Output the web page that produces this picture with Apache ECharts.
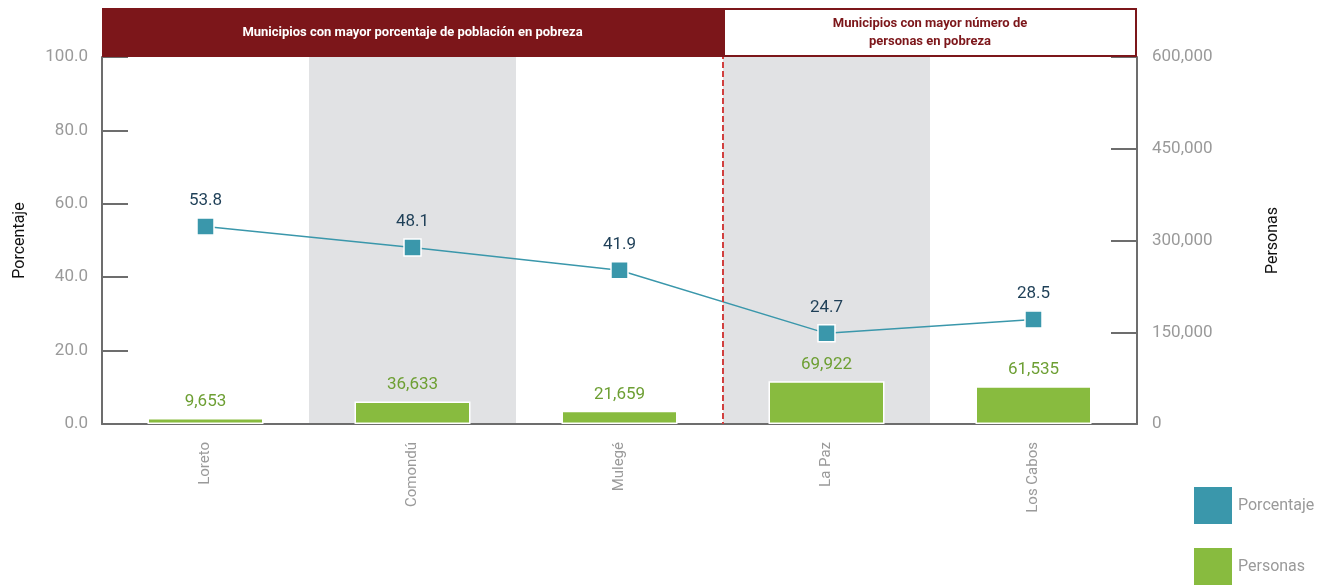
<!DOCTYPE html>
<html>
<head>
    <meta charset="UTF-8"/>
    <script type="text/javascript" src="https://cdn.jsdelivr.net/npm/echarts@6/dist/echarts.min.js"></script>
    <title>Pobreza por municipio</title>
    <style>
        html, body { margin: 0; padding: 0; background: #fff; }
        #chart { width: 1333px; height: 585px; }
    </style>
</head>
<body>
<div id="chart"></div>

<script type="application/javascript">
    var municipios = ['Loreto', 'Comondú', 'Mulegé', 'La Paz', 'Los Cabos'];
    var porcentaje = [53.8, 48.1, 41.9, 24.7, 28.5];
    var personas = [9653, 36633, 21659, 69922, 61535];
    var headerLeft = 'Municipios con mayor porcentaje de población en pobreza';
    var headerRight = 'Municipios con mayor número de\npersonas en pobreza';

    var grayText = '#9a9a9a';
    var axisColor = '#6d6d6d';
    var baseFont = 'Roboto, "Liberation Sans", sans-serif';
    var narrowFont = '"Liberation Sans Narrow", "Roboto", sans-serif';

    function fmtMiles(v) {
        return String(v).replace(/\B(?=(\d{3})+(?!\d))/g, ',');
    }

    function legendItem(name, top) {
        return {
            orient: 'vertical',
            left: 1192,
            top: top,
            padding: 0,
            itemWidth: 40,
            itemHeight: 39,
            icon: 'rect',
            textStyle: { color: grayText, fontSize: 16, fontFamily: baseFont },
            data: [name]
        };
    }

    var myChart = echarts.init(document.getElementById('chart'));
    var option = {
        animation: false,
        textStyle: { fontFamily: baseFont },
        grid: { left: 102, right: 196, top: 57, bottom: 161, outerBoundsMode: 'none' },
        legend: [legendItem('Porcentaje', 485), legendItem('Personas', 546)],
        xAxis: {
            type: 'category',
            data: municipios,
            axisLine: { lineStyle: { color: axisColor, width: 2 } },
            axisTick: { inside: true, length: 8, lineStyle: { color: axisColor, width: 2 } },
            axisLabel: { rotate: 90, color: grayText, fontSize: 15, margin: 18 },
            splitArea: { show: true, areaStyle: { color: ['rgba(0,0,0,0)', '#e1e2e4'] } }
        },
        yAxis: [
            {
                type: 'value',
                min: 0, max: 100, interval: 20,
                name: 'Porcentaje',
                nameLocation: 'middle',
                nameRotate: 90,
                nameGap: 74,
                nameTextStyle: { color: '#111', fontSize: 16 },
                axisLine: { show: true, lineStyle: { color: axisColor, width: 2 } },
                axisTick: { show: true, inside: true, length: 26, lineStyle: { color: axisColor, width: 2 } },
                axisLabel: { color: grayText, fontSize: 17, margin: 14, formatter: function (v) { return v.toFixed(1); } },
                splitLine: { show: false }
            },
            {
                type: 'value',
                min: 0, max: 600000, interval: 150000,
                name: 'Personas',
                nameLocation: 'middle',
                nameRotate: 90,
                nameGap: 128,
                nameTextStyle: { color: '#111', fontSize: 16 },
                axisLine: { show: true, lineStyle: { color: axisColor, width: 2 } },
                axisTick: { show: true, inside: true, length: 26, lineStyle: { color: axisColor, width: 2 } },
                axisLabel: { color: grayText, fontSize: 17, margin: 15, formatter: fmtMiles },
                splitLine: { show: false }
            }
        ],
        series: [
            {
                name: 'Personas',
                type: 'bar',
                yAxisIndex: 1,
                data: personas,
                barWidth: 116,
                itemStyle: { color: '#88bb3f', borderColor: '#fff', borderWidth: 1.5 },
                label: {
                    show: true, position: 'top', distance: 8,
                    color: '#6d9f33', fontSize: 17,
                    formatter: function (p) { return fmtMiles(p.value); }
                },
                z: 2
            },
            {
                name: 'Porcentaje',
                type: 'line',
                yAxisIndex: 0,
                data: porcentaje,
                symbol: 'rect',
                symbolSize: 17,
                lineStyle: { color: '#3a97ab', width: 1.5 },
                itemStyle: { color: '#3a97ab', borderColor: '#fff', borderWidth: 1.5 },
                label: {
                    show: true, position: 'top', distance: 8,
                    color: '#1e3f57', fontSize: 17,
                    formatter: function (p) { return p.value.toFixed(1); }
                },
                z: 4
            }
        ]
    };
    myChart.setOption(option);

    // encabezados y línea divisoria a partir de las escalas del gráfico
    var xa = myChart.convertToPixel({ xAxisIndex: 0 }, municipios[2]);
    var xb = myChart.convertToPixel({ xAxisIndex: 0 }, municipios[3]);
    var xDiv = (xa + xb) / 2;
    var x0 = myChart.convertToPixel({ xAxisIndex: 0 }, municipios[0]) - (xb - xa) / 2;
    var x1 = myChart.convertToPixel({ xAxisIndex: 0 }, municipios[4]) + (xb - xa) / 2;
    var yTop = myChart.convertToPixel({ yAxisIndex: 0 }, 100);
    var yBot = myChart.convertToPixel({ yAxisIndex: 0 }, 0);
    var hTop = 8;

    myChart.setOption({
        graphic: [
            {
                type: 'line', z: 10,
                shape: { x1: xDiv, y1: hTop, x2: xDiv, y2: yBot },
                style: { stroke: '#d1403f', lineWidth: 2, lineDash: [6, 3] }
            },
            {
                type: 'rect', z: 20,
                shape: { x: x0, y: hTop, width: xDiv - x0, height: yTop - hTop },
                style: { fill: '#7c161a' }
            },
            {
                type: 'text', z: 21,
                x: (x0 + xDiv) / 2, y: (hTop + yTop) / 2,
                style: {
                    text: headerLeft, fill: '#fff', fontSize: 13, fontWeight: 'bold',
                    fontFamily: narrowFont, align: 'center', verticalAlign: 'middle'
                }
            },
            {
                type: 'rect', z: 20,
                shape: { x: xDiv + 1, y: hTop + 1, width: x1 - xDiv - 2, height: yTop - hTop - 2 },
                style: { fill: '#fff', stroke: '#7c161a', lineWidth: 2 }
            },
            {
                type: 'text', z: 21,
                x: (xDiv + x1) / 2, y: (hTop + yTop) / 2,
                style: {
                    text: headerRight, fill: '#7c161a', fontSize: 13, fontWeight: 'bold',
                    fontFamily: narrowFont, align: 'center', verticalAlign: 'middle', lineHeight: 18
                }
            }
        ]
    });
</script>
</body>
</html>
